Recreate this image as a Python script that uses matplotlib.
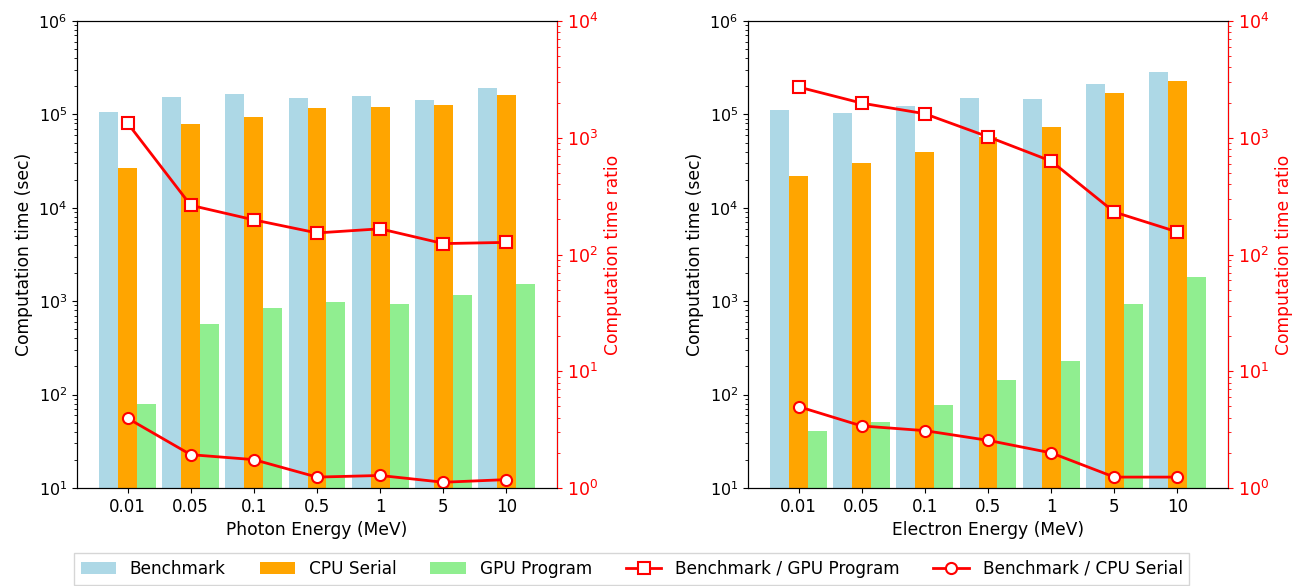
import numpy as np
import matplotlib
matplotlib.use('Agg')
import matplotlib.pyplot as plt

energies = ['0.01', '0.05', '0.1', '0.5', '1', '5', '10']

# photon panel
ph_bench = [1.07e5, 1.53e5, 1.64e5, 1.49e5, 1.57e5, 1.42e5, 1.93e5]
ph_cpu = [2.69e4, 7.83e4, 9.3e4, 1.18e5, 1.21e5, 1.26e5, 1.61e5]
ph_gpu = [79, 571, 836, 975, 944, 1160, 1520]
ph_ratio_gpu = [1337, 264, 198, 153, 166, 124, 127]
ph_ratio_cpu = [3.96, 1.93, 1.75, 1.24, 1.28, 1.12, 1.18]

# electron panel
el_bench = [1.11e5, 1.03e5, 1.24e5, 1.50e5, 1.46e5, 2.11e5, 2.84e5]
el_cpu = [2.19e4, 2.99e4, 3.96e4, 5.77e4, 7.27e4, 1.69e5, 2.30e5]
el_gpu = [40.4, 51.4, 76.8, 145, 229, 922, 1830]
el_ratio_gpu = [2720, 1980, 1605, 1020, 631, 231, 156]
el_ratio_cpu = [4.98, 3.40, 3.10, 2.56, 2.0, 1.24, 1.24]

fig = plt.figure(figsize=(12.97, 5.86), dpi=100)
ax1 = fig.add_axes([77 / 1297, 1 - 488 / 586, 480 / 1297, 467 / 586])
ax2 = fig.add_axes([748 / 1297, 1 - 488 / 586, 480 / 1297, 467 / 586])

def panel(ax, bench, cpu, gpu, r_gpu, r_cpu, xlabel):
    x = np.arange(len(energies))
    w = 0.3
    b1 = ax.bar(x - w, bench, w, color='lightblue', label='Benchmark')
    b2 = ax.bar(x, cpu, w, color='orange', label='CPU Serial')
    b3 = ax.bar(x + w, gpu, w, color='lightgreen', label='GPU Program')
    ax.set_yscale('log')
    ax.set_ylim(10, 1e6)
    ax.set_xlim(-0.8, 6.8)
    ax.set_xticks(x)
    ax.set_xticklabels(energies)
    ax.set_xlabel(xlabel, fontsize=12.3)
    ax.set_ylabel('Computation time (sec)', fontsize=12.3)
    ax.tick_params(axis='x', labelsize=12)
    ax.tick_params(axis='y', labelsize=11.5)

    ax_r = ax.twinx()
    l1, = ax_r.plot(x, r_gpu, '-s', color='red', lw=2, ms=8, mfc='white',
                    mec='red', mew=1.5, label='Benchmark / GPU Program')
    l2, = ax_r.plot(x, r_cpu, '-o', color='red', lw=2, ms=8, mfc='white',
                    mec='red', mew=1.5, label='Benchmark / CPU Serial')
    ax_r.set_yscale('log')
    ax_r.set_ylim(1, 1e4)
    ax_r.set_ylabel('Computation time ratio', color='red', fontsize=12.3)
    ax_r.tick_params(axis='y', which='both', colors='red', labelsize=12.5)
    ax_r.spines['right'].set_color('red')
    return [b1, b2, b3, l1, l2]

handles = panel(ax1, ph_bench, ph_cpu, ph_gpu, ph_ratio_gpu, ph_ratio_cpu, 'Photon Energy (MeV)')
panel(ax2, el_bench, el_cpu, el_gpu, el_ratio_gpu, el_ratio_cpu, 'Electron Energy (MeV)')

fig.legend(handles, [h.get_label() for h in handles], loc='lower center',
           bbox_to_anchor=(0.487, -0.012), ncol=5, fontsize=12.2, frameon=True,
           fancybox=False, handlelength=2.1, columnspacing=2.0)

fig.savefig('out.png', dpi=100)
